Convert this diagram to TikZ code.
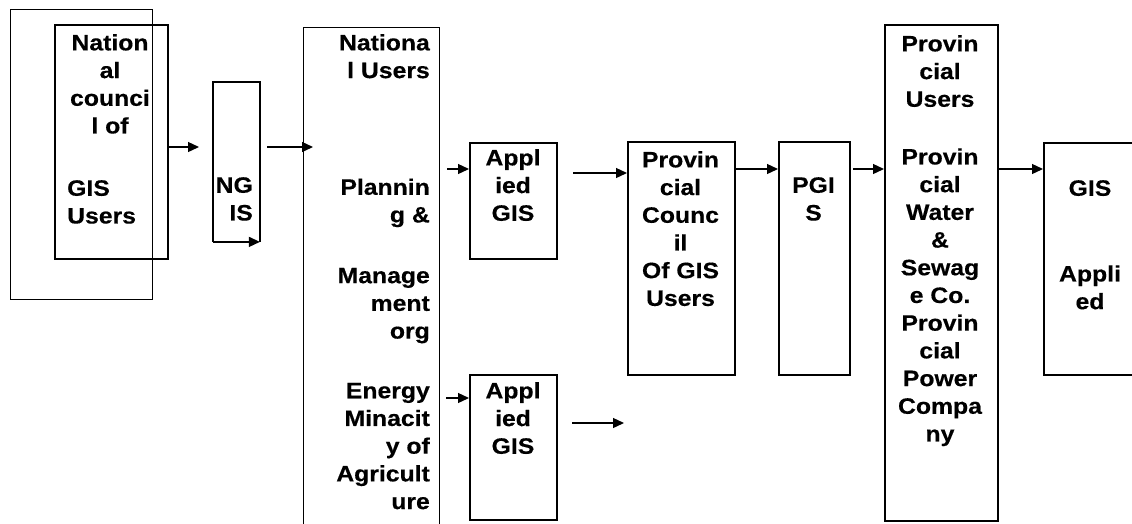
\documentclass[tikz,border=0pt]{standalone}
\usepackage{fontspec}
\setmainfont{Liberation Sans}[FakeStretch=1.11, BoldFeatures={FakeBold=0.4}]
\usetikzlibrary{arrows.meta}
\begin{document}
\begin{tikzpicture}
[x=1pt, y=-1pt,
box/.style={draw, line width=1.9pt, inner sep=0pt, anchor=north west},
txt/.style={inner sep=0pt, anchor=north, align=center,
  font=\bfseries\fontsize{22.3}{27.7}\selectfont},
arr/.style={-{Triangle[length=11pt, width=10pt]}, line width=1.3pt}]
\useasboundingbox (0,0) rectangle (1132,523);
\clip (0,0) rectangle (1132,523);
% boxes
\node[box, line width=1pt, minimum width=142pt, minimum height=290pt] (frame) at (10,9) {};
\node[box, minimum width=113pt, minimum height=234pt] (ncgu) at (54,24) {};
\node[box, draw=none, minimum width=45pt, minimum height=158pt] (ngis) at (213,82) {};
\node[box, line width=1.3pt, minimum width=136pt, minimum height=520pt] (natu) at (303,27) {};
\node[box, minimum width=87pt, minimum height=116pt] (app1) at (469,142) {};
\node[box, minimum width=87pt, minimum height=145pt] (app2) at (469,374) {};
\node[box, minimum width=107pt, minimum height=233pt] (pcgu) at (627,141) {};
\node[box, minimum width=71pt, minimum height=233pt] (pgis) at (778,141) {};
\node[box, minimum width=113pt, minimum height=496pt] (pusr) at (884,24) {};
\node[box, minimum width=110pt, minimum height=232pt] (gisa) at (1043,142) {};
\draw[line width=1.3pt] (ngis.south west) -- (ngis.north west)
  -- (ngis.north east) -- (ngis.south east);
% texts
\node[txt] (ncgut) at (110,34) {Nation\\al\\counci\\l of};
\node[txt, anchor=north west, align=left] (ncgub) at (67,180) {GIS\\Users};
\node[txt, anchor=north east, align=right] (ngist) at (253,177) {NG\\IS};
\node[txt, anchor=north east, align=right] (natut) at (430,34)
  {Nationa\\l Users\\[89pt]Plannin\\g \&\\[33pt]Manage\\ment\\org\\[32pt]%
   Energy\\Minacit\\y of\\Agricult\\ure};
\node[txt] (app1t) at (513,149) {Appl\\ied\\GIS};
\node[txt] (app2t) at (513,382) {Appl\\ied\\GIS};
\node[txt] (pcgut) at (680.5,151) {Provin\\cial\\Counc\\il\\Of GIS\\Users};
\node[txt] (pgist) at (813.5,177) {PGI\\S};
\node[txt] (pusrt) at (940,35)
  {Provin\\cial\\Users\\[30pt]Provin\\cial\\Water\\\&\\Sewag\\e Co.\\%
   Provin\\cial\\Power\\Compa\\ny};
\node[txt] (gisat) at (1090,180) {GIS\\[58pt]Appli\\ed};
% arrows
\coordinate (c1) at (199,147);
\coordinate (c2s) at (267,147);
\coordinate (c2e) at (313,147);
\coordinate (c3) at (447,169);
\coordinate (c4) at (573,173);
\coordinate (c5) at (446,398);
\coordinate (c6s) at (572,423);
\coordinate (c6e) at (624,423);
\coordinate (c7) at (756,169);
\coordinate (c8) at (853,169);
\coordinate (c9) at (1020,169);
\foreach \a/\b in {ncgu.east |- c1/c1, c2s/c2e, c3/app1.west |- c3,
  c4/pcgu.west |- c4, c5/app2.west |- c5, c6s/c6e,
  pcgu.east |- c7/pgis.west |- c7, c8/pusr.west |- c8,
  pusr.east |- c9/gisa.west |- c9, ngis.south west/ngis.south east}
  \draw[arr] (\a) -- (\b);
%\draw[step=10pt, thin] (0,0) grid (1132,523);
\end{tikzpicture}
\end{document}
